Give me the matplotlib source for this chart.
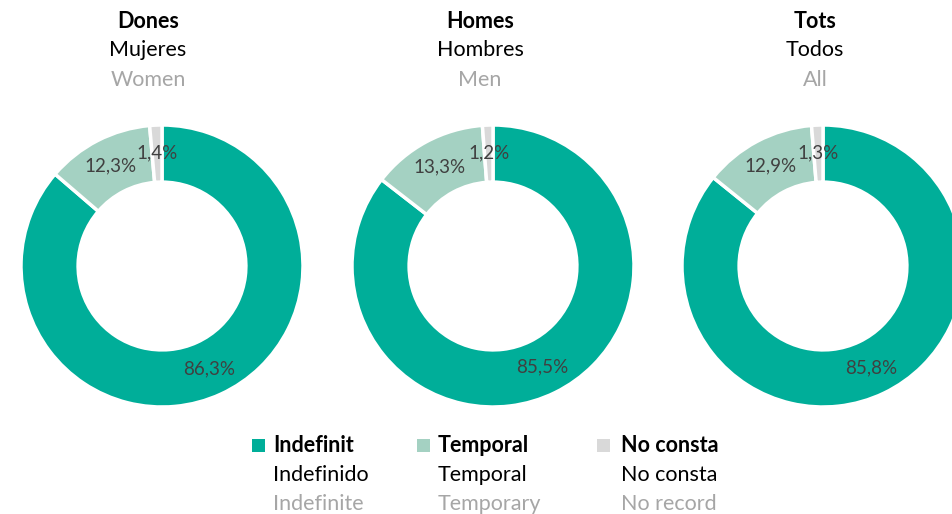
import matplotlib
matplotlib.use("Agg")
import matplotlib.pyplot as plt

plt.rcParams['font.family'] = ['Lato', 'DejaVu Sans']

categories_ca = ["Indefinit", "Temporal", "No consta"]
categories_es = ["Indefinido", "Temporal", "No consta"]
categories_en = ["Indefinite", "Temporary", "No record"]
colors = ["#00AE99", "#A4D1C2", "#D9D9D9"]

groups_ca = ["Dones", "Homes", "Tots"]
groups_es = ["Mujeres", "Hombres", "Todos"]
groups_en = ["Women", "Men", "All"]

values = {
    "Dones": [86.3, 12.3, 1.4],
    "Homes": [85.5, 13.3, 1.2],
    "Tots": [85.8, 12.9, 1.3],
}

W, H = 953, 514
fig = plt.figure(figsize=(W / 100, H / 100), dpi=100)

centers_x = [162, 493, 823]
title_x = [148, 480, 815]
cy = 266
R = 141

def fx(x):
    return x / W

def fy(y):
    return 1 - y / H

for i, g in enumerate(groups_ca):
    cx = centers_x[i]
    ax = fig.add_axes([fx(cx - R), fy(cy + R), 2 * R / W, 2 * R / H])
    vals = values[g]
    wedges, texts = ax.pie(
        vals, colors=colors, startangle=90, counterclock=False,
        radius=1.0, wedgeprops=dict(width=0.405, edgecolor="white", linewidth=2.5),
        labels=[f"{v:.1f}%".replace(".", ",") for v in vals],
        labeldistance=0.80,
        textprops=dict(color="#404040", fontsize=13.5, ha="center", va="center"),
    )
    for t in texts:
        t.set_ha("center")
        t.set_va("center")
    ax.set_xlim(-1, 1)
    ax.set_ylim(-1, 1)
    ax.set_aspect("equal")
    ax.axis("off")

    tx = title_x[i]
    fig.text(fx(tx), fy(21), g, ha="center", va="center", fontsize=15.5,
             fontweight="bold", color="black")
    fig.text(fx(tx), fy(50), groups_es[i], ha="center", va="center", fontsize=15.5,
             color="black")
    fig.text(fx(tx), fy(80), groups_en[i], ha="center", va="center", fontsize=15.5,
             color="#A6A6A6")

leg_sq_x = [252, 417, 597]
leg_tx = [273, 438, 621]
for j in range(3):
    sq = fig.add_axes([fx(leg_sq_x[j]), fy(452), 13 / W, 13 / H])
    sq.set_facecolor(colors[j])
    sq.set_xticks([]); sq.set_yticks([])
    for s in sq.spines.values():
        s.set_visible(False)
    fig.text(fx(leg_tx[j]), fy(446), categories_ca[j], ha="left", va="center",
             fontsize=15.5, fontweight="bold", color="black")
    fig.text(fx(leg_tx[j]), fy(475), categories_es[j], ha="left", va="center",
             fontsize=15.5, color="black")
    fig.text(fx(leg_tx[j]), fy(504), categories_en[j], ha="left", va="center",
             fontsize=15.5, color="#A6A6A6")

fig.savefig("out.png", dpi=100, facecolor="white")
